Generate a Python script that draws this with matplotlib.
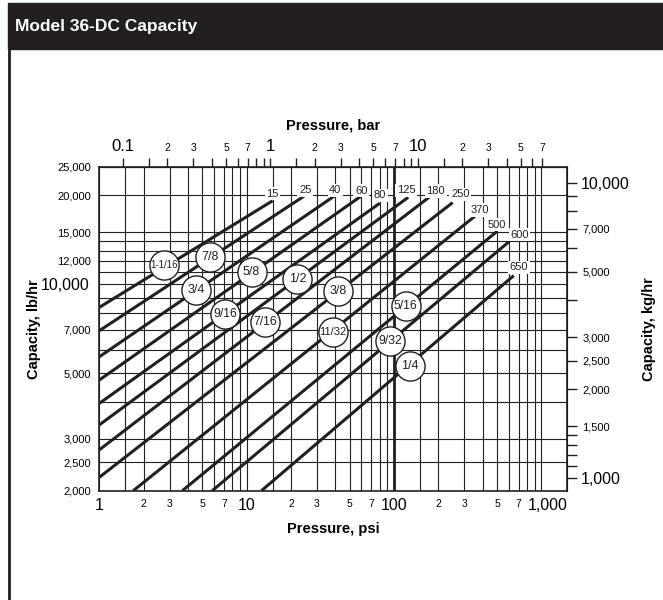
import numpy as np
import matplotlib.pyplot as plt
from matplotlib.patches import Rectangle
from matplotlib.lines import Line2D
from matplotlib.transforms import ScaledTranslation

plt.rcParams['font.family'] = ['Liberation Sans Narrow', 'Liberation Sans', 'DejaVu Sans']

ink = '#231f20'

# one line per orifice size, ending at its max set pressure (psi)
orifices = ['1-1/16', '7/8', '3/4', '5/8', '9/16', '1/2', '7/16', '3/8', '11/32', '5/16', '9/32', '1/4']
maxPsi = [15, 25, 40, 60, 80, 125, 180, 250, 370, 500, 600, 650]
startPsi = [1, 1, 1, 1, 1, 1, 1, 1, 1.70, 3.66, 5.84, 12.6]
startCap = [8350, 6960, 5680, 4740, 3950, 3340, 2750, 2220, 2000, 2000, 2000, 2000]
endCap = [19170, 20000, 20000, 19900, 18800, 19700, 20000, 18900, 17300, 15100, 13900, 10700]

# where the orifice circles sit on each line
circlePsi = [2.76, 5.63, 4.55, 10.8, 7.11, 22.1, 13.4, 41.7, 38.6, 120, 94.6, 127.6]
circleCap = [11600, 12400, 9560, 11000, 7910, 10400, 7470, 9500, 6900, 8440, 6440, 5290]

# ticks
psiMajor = [1, 10, 100, 1000]
psiMajorLabels = ['1', '10', '100', '1,000']
psiMinor = [1.5, 2, 3, 4, 5, 6, 7, 8, 9, 15, 20, 30, 40, 50, 60, 70, 80, 90,
            150, 200, 300, 400, 500, 600, 700, 800, 900]
psiMinorLabels = ['', '2', '3', '', '5', '', '7', '', '', '', '2', '3', '', '5', '', '7', '', '',
                  '', '2', '3', '', '5', '', '7', '', '']
barMajor = [0.1, 1, 10]
barMajorLabels = ['0.1', '1', '10']
barMinor = [0.15, 0.2, 0.3, 0.4, 0.5, 0.6, 0.7, 0.8, 0.9, 1.5, 2, 3, 4, 5, 6, 7, 8, 9,
            15, 20, 30, 40, 50, 60, 70]
barMinorLabels = ['', '2', '3', '', '5', '', '7', '', '', '', '2', '3', '', '5', '', '7', '', '',
                  '', '2', '3', '', '5', '', '7']
lbMajor = [10000]
lbMajorLabels = ['10,000']
lbMinor = [2000, 2500, 3000, 4000, 5000, 6000, 7000, 8000, 9000, 11000, 12000, 13000, 14000,
           15000, 20000, 25000]
lbMinorLabels = ['2,000', '2,500', '3,000', '', '5,000', '', '7,000', '', '', '', '12,000', '', '',
                 '15,000', '20,000', '25,000']
kgMajor = [1000, 10000]
kgMajorLabels = ['1,000', '10,000']
kgMinor = [1100, 1200, 1300, 1400, 1500, 2000, 2500, 3000, 4000, 5000, 6000, 7000, 8000, 9000]
kgMinorLabels = ['', '', '', '', '1,500', '2,000', '2,500', '3,000', '', '5,000', '', '7,000', '', '']

# label nudges (points) for the max pressure numbers
endOffsets = [(0, 5), (0, 3.6), (0, 3.6), (0, 3.8), (0, 5.8), (-1.4, 5), (3, 3), (5.5, 6),
              (1.4, 2.9), (0, 4.8), (7.8, 5.3), (3.5, 6)]
circleFont = [7, 9, 9, 9, 8.8, 9, 8.8, 9, 8, 8.8, 8.8, 9]

fig = plt.figure(figsize=(6.63, 6.0), dpi=100)
ax = fig.add_axes([99.3 / 663, 1 - 490.7 / 600, 468 / 663, 324 / 600])
ax.set_xscale('log')
ax.set_yscale('log')
ax.set_xlim(1, 1500)
ax.set_ylim(2000, 25000)

ax.set_xticks(psiMajor, psiMajorLabels)
ax.set_xticks(psiMinor, psiMinorLabels, minor=True)
ax.set_yticks(lbMajor, lbMajorLabels)
ax.set_yticks(lbMinor, lbMinorLabels, minor=True)
ax.tick_params(axis='x', which='both', length=0)
ax.tick_params(axis='x', which='major', labelsize=11.5, pad=5.5)
ax.tick_params(axis='x', which='minor', labelsize=7.5, pad=6)
ax.tick_params(axis='y', which='both', length=0)
ax.tick_params(axis='y', which='major', labelsize=11.5, pad=7)
ax.tick_params(axis='y', which='minor', labelsize=8, pad=6)
ax.grid(which='both', color=ink, lw=0.8)
ax.axvline(100, color=ink, lw=2)
for s in ax.spines.values():
    s.set_linewidth(1.2)
    s.set_color(ink)

for sp, sc, ep, ec in zip(startPsi, startCap, maxPsi, endCap):
    ax.plot([sp, ep], [sc, ec], color=ink, lw=2.2, solid_capstyle='butt', zorder=3)

for p, c, off in zip(maxPsi, endCap, endOffsets):
    ax.annotate(str(p), xy=(p, c), xytext=off, textcoords='offset points', ha='center', va='center',
                fontsize=8, color=ink, zorder=5,
                bbox=dict(boxstyle='square,pad=0.15', fc='white', ec='none'))

ax.plot(circlePsi, circleCap, 'o', ms=21, mfc='white', mec=ink, mew=1, zorder=4)
for name, p, c, fs in zip(orifices, circlePsi, circleCap, circleFont):
    ax.text(p, c, name, ha='center', va='center', fontsize=fs, color=ink, zorder=5)

ax.set_xlabel('Pressure, psi', fontsize=10.5, fontweight='bold', labelpad=6)
ax.set_ylabel('Capacity, lb/hr', fontsize=10.5, fontweight='bold')
ax.yaxis.set_label_coords(-0.124, 0.5)

top = ax.secondary_xaxis('top', functions=(lambda p: p / 14.5038, lambda b: b * 14.5038))
top.set_xticks(barMajor, barMajorLabels)
top.set_xticks(barMinor, barMinorLabels, minor=True)
top.tick_params(which='both', direction='out', length=6.8, width=1, color=ink)
top.tick_params(which='major', labelsize=12, pad=2)
top.tick_params(which='minor', labelsize=7.5, pad=3)
top.set_xlabel('Pressure, bar', fontsize=10.5, fontweight='bold', labelpad=7)

right = ax.secondary_yaxis('right', functions=(lambda w: w * 0.45359, lambda k: k / 0.45359))
right.set_yticks(kgMajor, kgMajorLabels)
right.set_yticks(kgMinor, kgMinorLabels, minor=True)
right.tick_params(which='both', direction='out', length=7, width=1, color=ink)
right.tick_params(which='major', labelsize=11.5, pad=3)
right.tick_params(which='minor', labelsize=8, pad=4)
right.set_ylabel('Capacity, kg/hr', fontsize=10.5, fontweight='bold', labelpad=9)

# header band and frame
fig.add_artist(Rectangle((8 / 663, 1 - 49.3 / 600), 1, 46.6 / 600, transform=fig.transFigure,
                         color=ink, zorder=0))
fig.text(15 / 663, 1 - 26 / 600, 'Model 36-DC Capacity', color='white', fontsize=12.5,
         fontweight='bold', va='center')
fig.add_artist(Line2D([9 / 663, 9 / 663], [0, 1 - 49 / 600], transform=fig.transFigure,
                      color=ink, lw=2))

# the 1,000 label sits a little right of its gridline, clear of the 7
fig.canvas.draw()
lbl = ax.xaxis.get_major_ticks()[3].label1
lbl.set_transform(lbl.get_transform() + ScaledTranslation(6 / 100, 0, fig.dpi_scale_trans))

fig.savefig('out.png', dpi=100)
